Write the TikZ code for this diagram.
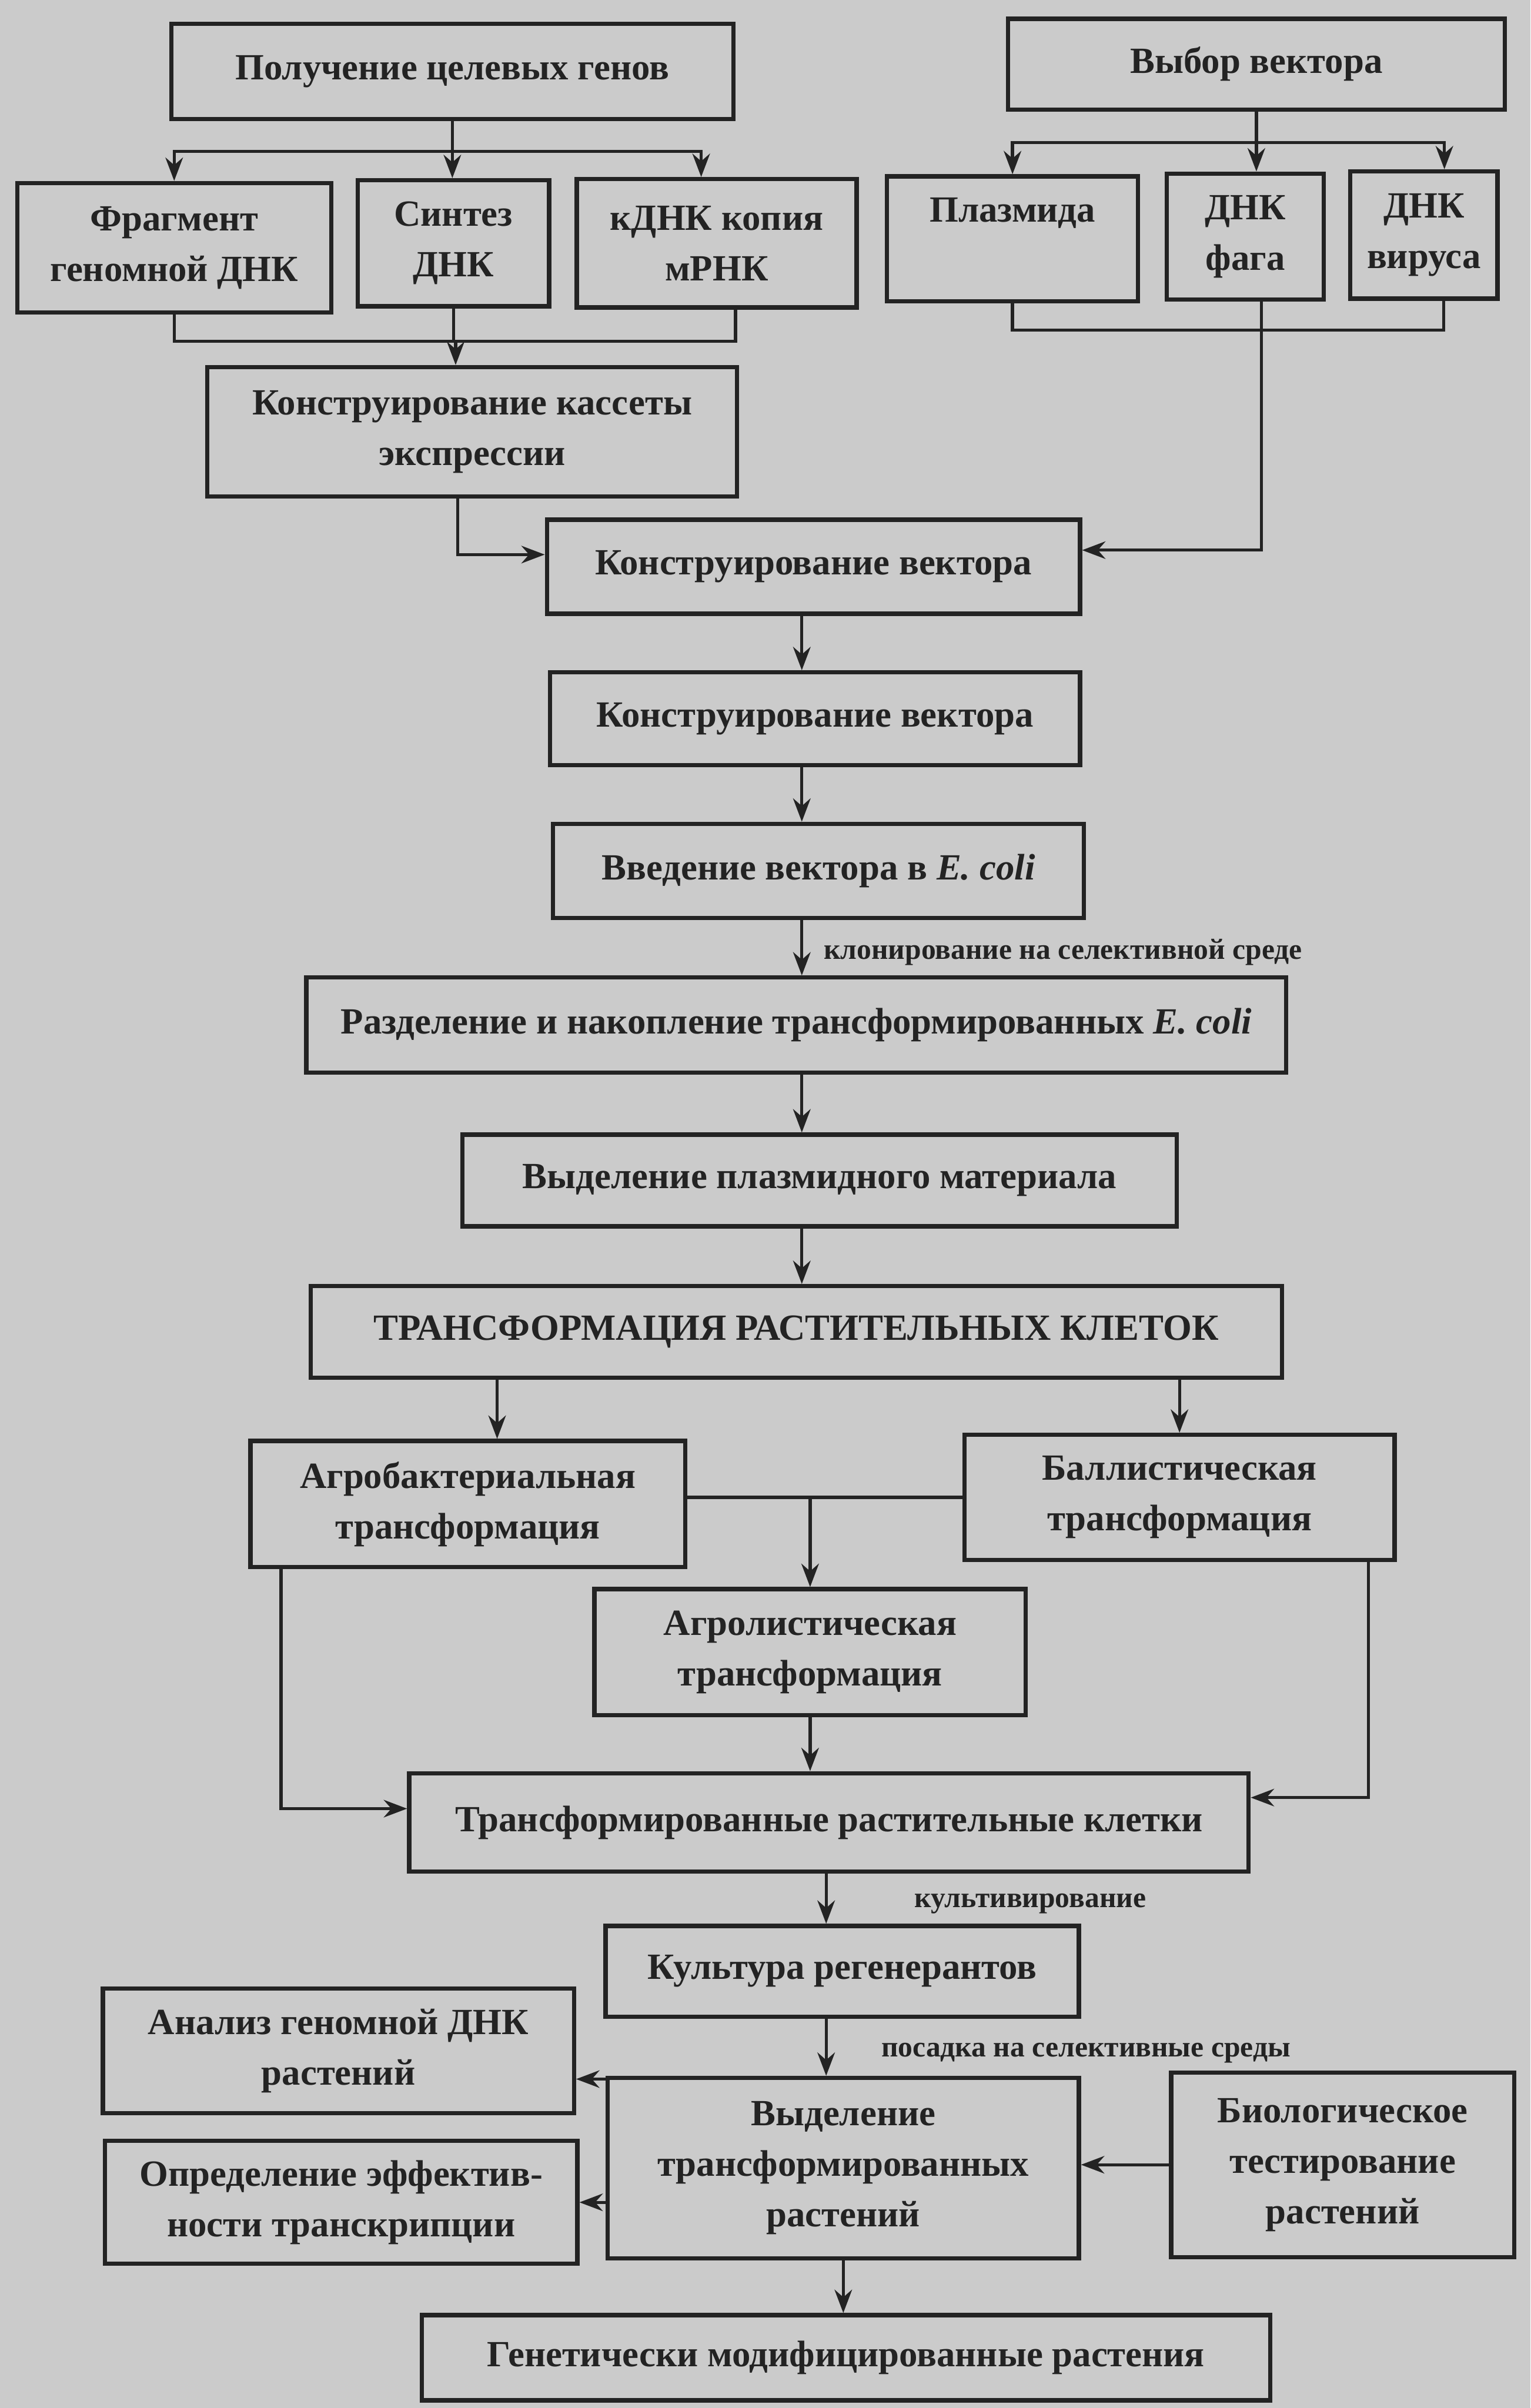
\documentclass[tikz,border=0pt]{standalone}
\usepackage{fontspec}
\setmainfont{Liberation Serif}
\usetikzlibrary{arrows.meta}
\definecolor{paper}{RGB}{203,203,203}
\definecolor{ink}{RGB}{35,35,35}

\begin{document}
\begin{tikzpicture}
\tikzset{ >={Stealth[length=6pt,width=4.5pt]},
  box/.style={draw=ink, line width=1.1pt, align=center, inner sep=2pt, text=ink,
              font=\bfseries\fontsize{9.5}{13}\selectfont},
  lbl/.style={text=ink, inner sep=1pt, font=\bfseries\fontsize{7.5}{9}\selectfont},
  link/.style={draw=ink, line width=0.8pt} }
%\draw [lightgray, dashed](0,0) grid (13.84,-21.775);

\fill [paper] (0,0) rectangle (13.84,-21.775);

% top row
\node [box, minimum width=5.08cm, minimum height=0.86cm] (GEN)  at (4.09,-0.645) {Получение целевых генов};
\node [box, minimum width=4.49cm, minimum height=0.82cm] (VSEL) at (11.36,-0.58) {Выбор вектора};

\node [box, minimum width=2.84cm, minimum height=1.17cm] (FRAG) at (1.575,-2.24) {Фрагмент\\геномной ДНК};
\node [box, minimum width=1.73cm, minimum height=1.14cm] (SYN)  at (4.10,-2.20)  {Синтез\\ДНК};
\node [box, minimum width=2.53cm, minimum height=1.16cm] (CDNA) at (6.48,-2.20)  {кДНК копия\\мРНК};
\node [box, minimum width=2.27cm, minimum height=1.13cm] (PLA)  at (9.155,-2.16) {Плазмида\\\phantom{Д}};
\node [box, minimum width=1.42cm, minimum height=1.14cm] (PHG)  at (11.26,-2.14) {ДНК\\фага};
\node [box, minimum width=1.33cm, minimum height=1.15cm] (VIR)  at (12.875,-2.125) {ДНК\\вируса};

% main chain
\node [box, minimum width=4.79cm, minimum height=1.17cm] (CAS)  at (4.27,-3.905) {Конструирование кассеты\\экспрессии};
\node [box, minimum width=4.82cm, minimum height=0.85cm] (VEC1) at (7.355,-5.125) {Конструирование вектора};
\node [box, minimum width=4.79cm, minimum height=0.84cm] (VEC2) at (7.37,-6.50)  {Конструирование вектора};
\node [box, minimum width=4.80cm, minimum height=0.85cm] (INT)  at (7.40,-7.875) {Введение вектора в \textit{E. coli}};
\node [box, minimum width=8.86cm, minimum height=0.86cm] (SEP)  at (7.20,-9.27)  {Разделение и накопление трансформированных \textit{E. coli}};
\node [box, minimum width=6.46cm, minimum height=0.83cm] (ISO)  at (7.41,-10.675) {Выделение плазмидного материала};
\node [box, minimum width=8.78cm, minimum height=0.83cm] (TRF)  at (7.20,-12.045) {ТРАНСФОРМАЦИЯ РАСТИТЕЛЬНЫХ КЛЕТОК};

% transformation methods
\node [box, minimum width=3.93cm, minimum height=1.14cm] (AGB)  at (4.23,-13.60)  {Агробактериальная\\трансформация};
\node [box, minimum width=3.89cm, minimum height=1.13cm] (BAL)  at (10.665,-13.54) {Баллистическая\\трансформация};
\node [box, minimum width=3.90cm, minimum height=1.14cm] (AGL)  at (7.325,-14.94) {Агролистическая\\трансформация};
\node [box, minimum width=7.59cm, minimum height=0.89cm] (CEL)  at (7.495,-16.48) {Трансформированные растительные клетки};
\node [box, minimum width=4.28cm, minimum height=0.82cm] (REG)  at (7.615,-17.825) {Культура регенерантов};

% bottom block
\node [box, minimum width=4.26cm, minimum height=1.13cm] (ANA)  at (3.06,-18.545) {Анализ геномной ДНК\\растений};
\node [box, minimum width=4.27cm, minimum height=1.11cm] (EFF)  at (3.085,-19.915) {Определение эффектив-\\ности транскрипции};
\node [box, minimum width=4.26cm, minimum height=1.63cm] (SEL)  at (7.625,-19.605) {Выделение\\трансформированных\\растений};
\node [box, minimum width=3.10cm, minimum height=1.67cm] (BIO)  at (12.14,-19.575) {Биологическое\\тестирование\\растений};
\node [box, minimum width=7.67cm, minimum height=0.77cm] (GMO)  at (7.65,-21.32)  {Генетически модифицированные растения};

\coordinate (GB) at (4.09,-1.37);
\coordinate (CB) at (4.12,-3.085);
\coordinate (VB) at (11.36,-1.29);
\coordinate (PB) at (11.405,-2.985);
\coordinate (SP) at (7.25,0);
\coordinate (SQ) at (7.47,0);

% genes branch
\draw [link]     (GEN.south) -- (GB);
\draw [link, ->] (GB) -| (FRAG.north);
\draw [link, ->] (GB) -- (GB |- SYN.north);
\draw [link, ->] (GB) -| ([xshift=-0.14cm]CDNA.north);

\draw [link] (FRAG.south) |- (CB) -| ([xshift=0.17cm]CDNA.south);
\draw [link] (SYN.south) -- (SYN.south |- CB);
\draw [link, ->] (CB) -- (CB |- CAS.north);

% vector branch
\draw [link]     (VSEL.south) -- (VB);
\draw [link, ->] (VB) -| (PLA.north);
\draw [link, ->] (VB) -- (VB |- PHG.north);
\draw [link, ->] (VB) -| ([xshift=0.185cm]VIR.north);

\draw [link] (PLA.south) |- (PB) -| ([xshift=0.18cm]VIR.south);
\draw [link, ->] (PB |- PHG.south) |- ([yshift=0.15cm]VEC1.east);
\draw [link, ->] ([xshift=-0.13cm]CAS.south) |- ([yshift=0.11cm]VEC1.west);

% chain
\draw [link, ->] (SP |- VEC1.south) -- (SP |- VEC2.north);
\draw [link, ->] (SP |- VEC2.south) -- (SP |- INT.north);
\draw [link, ->] (SP |- INT.south)  -- (SP |- SEP.north)
  node [lbl, right=0.15cm, pos=0.58] {клонирование на селективной среде};
\draw [link, ->] (SP |- SEP.south)  -- (SP |- ISO.north);
\draw [link, ->] (SP |- ISO.south)  -- (SP |- TRF.north);

\draw [link, ->] ([xshift=0.265cm]AGB.north |- TRF.south) -- ([xshift=0.265cm]AGB.north);
\draw [link, ->] (BAL.north |- TRF.south) -- (BAL.north);

\draw [link]     (AGB.east |- BAL.west) -- (BAL.west);
\draw [link, ->] (AGL.north |- BAL.west) -- (AGL.north);
\draw [link, ->] (AGL.south) -- (AGL.south |- CEL.north);
\draw [link, ->] ([xshift=0.295cm]AGB.south west) |- ([yshift=0.125cm]CEL.west);
\draw [link, ->] ([xshift=-0.255cm]BAL.south east) |- ([yshift=0.225cm]CEL.east);

\draw [link, ->] (SQ |- CEL.south) -- (SQ |- REG.north)
  node [lbl, right=0.75cm, pos=0.6] {культивирование};
\draw [link, ->] (SQ |- REG.south) -- (SQ |- SEL.north)
  node [lbl, right=0.45cm, pos=0.6] {посадка на селективные среды};

\draw [link, ->] ([yshift=-0.03cm]SEL.north west) -- ([yshift=-0.03cm]SEL.north west -| ANA.east);
\draw [link, ->] (EFF.east -| SEL.west) -- (EFF.east);
\draw [link, ->] (BIO.west) -- (BIO.west -| SEL.east);
\draw [link, ->] (SEL.south) -- (SEL.south |- GMO.north);

\end{tikzpicture}
\end{document}
